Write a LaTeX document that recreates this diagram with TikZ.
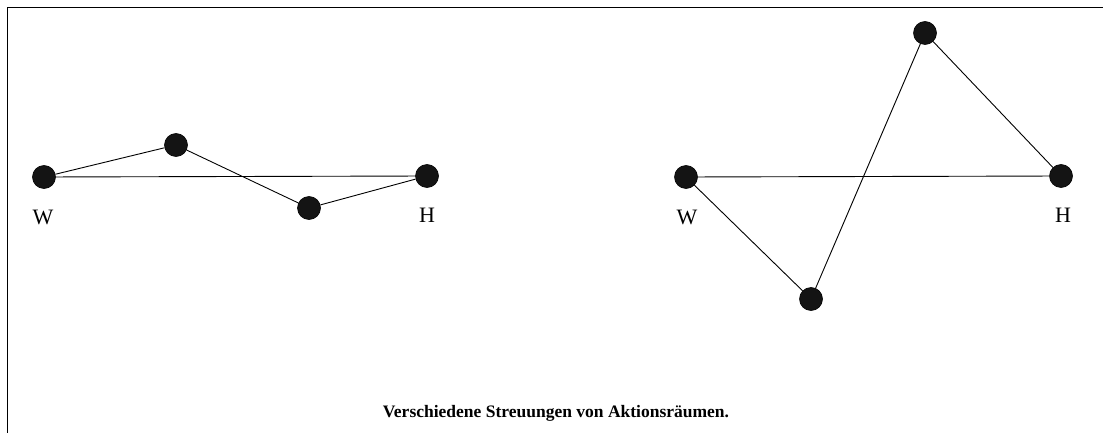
\documentclass[tikz,border=0pt]{standalone}
\usepackage{fontspec}
\setmainfont{Liberation Serif}
\begin{document}
\begin{tikzpicture}[x=1pt,y=-1pt,
  dot/.style={circle,fill=black!92,draw=black,line width=0.6pt,minimum size=23pt,inner sep=0pt},
  lab/.style={font=\fontsize{22}{24}\selectfont},
  edge/.style={draw=black,line width=0.9pt}]
\useasboundingbox (0,0) rectangle (1103,433);
% frame
\coordinate (fa) at (7,433);
\coordinate (fb) at (7,8);
\coordinate (fc) at (1103,8);
\draw[line width=1pt] (fa) -- (fb) -- (fc);
% left diagram
\node[dot] (lw) at (44,177) {};
\node[dot] (lt) at (176,145) {};
\node[dot] (ll) at (309,208) {};
\node[dot] (lh) at (427,176) {};
\draw[edge] (lw) -- (lh);
\draw[edge] (lw) -- (lt) -- (ll) -- (lh);
\node[lab] (lwl) at (43,217) {W};
\node[lab] (lhl) at (427,215) {H};
% right diagram
\node[dot] (rw) at (686,177) {};
\node[dot] (rb) at (811,299) {};
\node[dot] (rt) at (925,33) {};
\node[dot] (rh) at (1061,176) {};
\draw[edge] (rw) -- (rh);
\draw[edge] (rw) -- (rb) -- (rt) -- (rh);
\node[lab] (rwl) at (687,217) {W};
\node[lab] (rhl) at (1063,215) {H};
% caption
\node[anchor=base,font=\fontsize{17.5}{20}\selectfont\bfseries] (cap) at (556,417) {Verschiedene Streuungen von Aktionsräumen.};
\end{tikzpicture}
\end{document}
